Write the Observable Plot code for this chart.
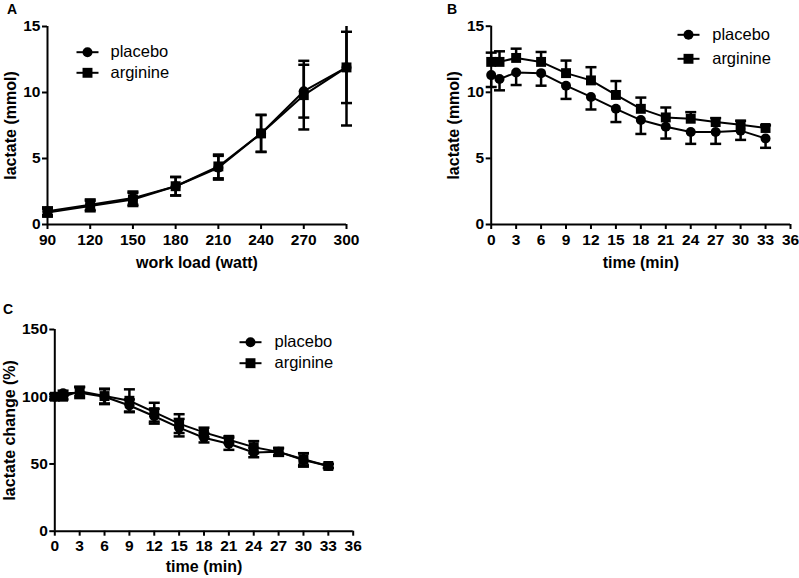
<!DOCTYPE html>
<html><head><meta charset="utf-8">
<script src="https://cdn.jsdelivr.net/npm/d3@7"></script>
<script src="https://cdn.jsdelivr.net/npm/@observablehq/plot@0.6"></script>
<style>
body{margin:0;background:#fff;}
#wrap{position:relative;width:799px;height:578px;overflow:hidden;font-family:"Liberation Sans",Arial,sans-serif;background:#fff;}
.panel{position:absolute;}
.letter{position:absolute;font-weight:bold;font-size:14px;line-height:1;color:#000;}
</style></head><body><div id="wrap"></div>
<script>
// ---- Panel A: lactate vs work load ----
const loads = [90, 120, 150, 180, 210, 240, 270, 300];
const aPlacebo = [1.0, 1.5, 2.0, 2.9, 4.3, 6.9, 10.1, 11.9];
const aPlaceboErr = [0.3, 0.4, 0.5, 0.7, 0.9, 1.4, 2.0, 2.7];
const aArginine = [0.9, 1.4, 1.9, 2.9, 4.4, 6.9, 9.8, 11.9];
const aArginineErr = [0.3, 0.4, 0.5, 0.7, 0.9, 1.4, 2.6, 4.4];
const aXTicks = [90, 120, 150, 180, 210, 240, 270, 300];
const aYTicks = [0, 5, 10, 15];

// ---- Panel B: lactate vs recovery time ----
const times = [0, 1, 3, 6, 9, 12, 15, 18, 21, 24, 27, 30, 33];
const bPlacebo = [11.3, 11.0, 11.5, 11.45, 10.5, 9.65, 8.75, 7.9, 7.4, 7.0, 7.0, 7.1, 6.5];
const bPlaceboErr = [0.9, 0.85, 0.95, 0.95, 1.0, 0.95, 1.0, 1.05, 0.9, 0.9, 0.9, 0.7, 0.7];
const bArginine = [12.3, 12.3, 12.6, 12.3, 11.45, 10.9, 9.8, 8.75, 8.1, 8.0, 7.75, 7.55, 7.3];
const bArginineErr = [0.7, 0.8, 0.7, 0.75, 0.95, 1.0, 1.05, 0.85, 0.75, 0.5, 0.3, 0.3, 0.2];
const timeTicks = [0, 3, 6, 9, 12, 15, 18, 21, 24, 27, 30, 33, 36];
const bYTicks = [0, 5, 10, 15];

// ---- Panel C: lactate change (%) vs recovery time ----
const cPlacebo = [100, 102.5, 103, 100, 93.5, 85.5, 77, 69.5, 65, 58.5, 59, 53, 48.5];
const cPlaceboErr = [2, 2, 4, 5.5, 4.5, 5.5, 6.5, 3.5, 4.5, 3.5, 3, 5, 1.5];
const cArginine = [100, 100, 104, 100.5, 97, 88.5, 80, 73.5, 68, 62.5, 59, 53.5, 48.5];
const cArginineErr = [2, 2, 3.5, 5.5, 8.5, 7, 7, 3.5, 2.5, 4.5, 2.5, 4.5, 1.5];
const cYTicks = [0, 50, 100, 150];

const seriesNames = ["placebo", "arginine"];

const FONT = "Liberation Sans, Arial, sans-serif";
const capSymbol = {draw(ctx) { ctx.moveTo(-5.5, 0); ctx.lineTo(5.5, 0); }};
const legendLine = {draw(ctx) { ctx.moveTo(-11, 0); ctx.lineTo(11, 0); }};

function panel(cfg) {
  const yMax = cfg.yDomain[1];
  const rows = cfg.xs.map((x, i) => ({x, p: cfg.pla[i], pe: cfg.plaErr[i], a: cfg.arg[i], ae: cfg.argErr[i]}));
  const split = cfg.split;
  const errP = rows.map(d => ({x: d.x, y1: d.p - d.pe, y2: Math.min(yMax, split ? d.p : d.p + d.pe)}));
  const errA = rows.map(d => ({x: d.x, y1: split ? d.a : d.a - d.ae, y2: Math.min(yMax, d.a + d.ae)}));
  const caps = [];
  rows.forEach(d => {
    caps.push({x: d.x, y: d.p - d.pe});
    if (!split) caps.push({x: d.x, y: d.p + d.pe});
    caps.push({x: d.x, y: d.a + d.ae});
    if (!split) caps.push({x: d.x, y: d.a - d.ae});
  });
  const visibleCaps = caps.filter(c => c.y <= yMax);
  const [mt, mr, mb, ml] = cfg.margins;
  const L = cfg.legend;
  const svg = Plot.plot({
    width: cfg.width, height: cfg.height,
    marginTop: mt, marginRight: mr, marginBottom: mb, marginLeft: ml,
    x: {domain: cfg.xDomain},
    y: {domain: cfg.yDomain},
    style: {fontFamily: FONT, fontSize: "15px", fontWeight: "bold", color: "black", background: "white", overflow: "visible"},
    marks: [
      Plot.ruleY([cfg.yDomain[0]], {stroke: "black", strokeWidth: 2}),
      Plot.ruleX([cfg.xDomain[0]], {stroke: "black", strokeWidth: 2}),
      Plot.axisX({ticks: cfg.xTicks, tickSize: 5, tickPadding: 4, strokeWidth: 2, label: null, fontSize: 15.5, fontWeight: "bold", tickFormat: d => String(d)}),
      Plot.axisY({ticks: cfg.yTicks, tickSize: 5, tickPadding: 2, strokeWidth: 2, label: null, fontSize: 15.5, fontWeight: "bold", tickFormat: d => String(d)}),
      Plot.ruleX(errP, {x: "x", y1: "y1", y2: "y2", stroke: "black", strokeWidth: 2.5}),
      Plot.ruleX(errA, {x: "x", y1: "y1", y2: "y2", stroke: "black", strokeWidth: 2.5}),
      Plot.dot(visibleCaps, {x: "x", y: "y", symbol: capSymbol, fill: "none", stroke: "black", strokeWidth: 2.5}),
      Plot.line(rows, {x: "x", y: "p", stroke: "black", strokeWidth: 2}),
      Plot.line(rows, {x: "x", y: "a", stroke: "black", strokeWidth: 2}),
      Plot.dot(rows, {x: "x", y: "p", symbol: "circle", r: 5, fill: "black", stroke: null}),
      Plot.dot(rows, {x: "x", y: "a", symbol: "square", r: 5.6, fill: "black", stroke: null}),
      // axis titles
      Plot.text([cfg.xLabel], {frameAnchor: "bottom", dy: cfg.xTitleDy, text: d => d, textAnchor: "middle", lineAnchor: "middle", fontSize: 16, fontWeight: "bold", fill: "black"}),
      Plot.text([cfg.yLabel], {frameAnchor: "left", dx: cfg.yTitleDx, rotate: -90, text: d => d, textAnchor: "middle", lineAnchor: "middle", fontSize: 16, fontWeight: "bold", fill: "black"}),
      // legend
      Plot.dot([0], {frameAnchor: "top-left", dx: L.dx, dy: L.dy, symbol: legendLine, fill: "none", stroke: "black", strokeWidth: 2}),
      Plot.dot([0], {frameAnchor: "top-left", dx: L.dx, dy: L.dy, symbol: "circle", r: 5, fill: "black", stroke: null}),
      Plot.dot([0], {frameAnchor: "top-left", dx: L.dx, dy: L.dy + L.gap, symbol: legendLine, fill: "none", stroke: "black", strokeWidth: 2}),
      Plot.dot([0], {frameAnchor: "top-left", dx: L.dx, dy: L.dy + L.gap, symbol: "square", r: 5.6, fill: "black", stroke: null}),
      Plot.text([seriesNames[0]], {frameAnchor: "top-left", dx: L.tdx, dy: L.dy, text: d => d, textAnchor: "start", lineAnchor: "middle", fontSize: 16.5, fontWeight: "normal", fill: "black"}),
      Plot.text([seriesNames[1]], {frameAnchor: "top-left", dx: L.tdx, dy: L.dy + L.gap, text: d => d, textAnchor: "start", lineAnchor: "middle", fontSize: 16.5, fontWeight: "normal", fill: "black"})
    ]
  });
  const div = document.createElement("div");
  div.className = "panel";
  div.style.left = cfg.left + "px";
  div.style.top = cfg.top + "px";
  div.appendChild(svg);
  document.getElementById("wrap").appendChild(div);
  const lt = document.createElement("div");
  lt.className = "letter";
  lt.textContent = cfg.letter;
  lt.style.left = cfg.letterPos[0] + "px";
  lt.style.top = cfg.letterPos[1] + "px";
  document.getElementById("wrap").appendChild(lt);
}

panel({
  letter: "A", letterPos: [7, 2],
  left: 0, top: 0, width: 400, height: 290, margins: [26, 54, 66, 47],
  xDomain: [90, 300], yDomain: [0, 15], xTicks: aXTicks, yTicks: aYTicks,
  xLabel: "work load (watt)", yLabel: "lactate (mmol)", xTitleDy: 38, yTitleDx: -37,
  xs: loads, pla: aPlacebo, plaErr: aPlaceboErr, arg: aArginine, argErr: aArginineErr, split: false,
  legend: {dx: 40, dy: 25.7, gap: 20.6, tdx: 63}
});
panel({
  letter: "B", letterPos: [447, 2],
  left: 400, top: 0, width: 399, height: 290, margins: [25.7, 9, 66, 90.7],
  xDomain: [0, 36], yDomain: [0, 15], xTicks: timeTicks, yTicks: bYTicks,
  xLabel: "time (min)", yLabel: "lactate (mmol)", xTitleDy: 38, yTitleDx: -37.4,
  xs: times, pla: bPlacebo, plaErr: bPlaceboErr, arg: bArginine, argErr: bArginineErr, split: true,
  legend: {dx: 197.3, dy: 8.6, gap: 24, tdx: 221}
});
panel({
  letter: "C", letterPos: [3, 302],
  left: 0, top: 290, width: 400, height: 288, margins: [39, 47.3, 47.3, 54.3],
  xDomain: [0, 36], yDomain: [0, 150], xTicks: timeTicks, yTicks: cYTicks,
  xLabel: "time (min)", yLabel: "lactate change (%)", xTitleDy: 36, yTitleDx: -45,
  xs: times, pla: cPlacebo, plaErr: cPlaceboErr, arg: cArginine, argErr: cArginineErr, split: false,
  legend: {dx: 195.7, dy: 12.7, gap: 21, tdx: 219.7}
});
</script>
</body></html>
